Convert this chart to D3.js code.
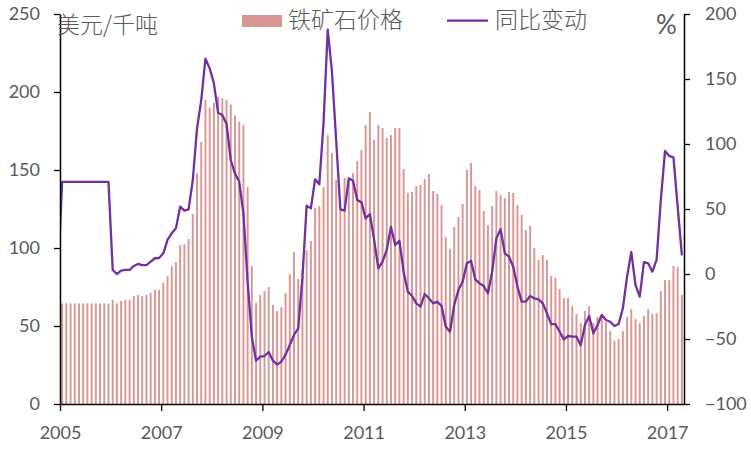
<!DOCTYPE html>
<html><head><meta charset="utf-8">
<script src="https://cdn.jsdelivr.net/npm/d3@7"></script>
<style>
body{margin:0;background:#fff}
svg{display:block;background:#fff}
.tick text{font-family:Lato,"Open Sans",sans-serif;font-size:18px;fill:#595959}
.cjk{font-family:"Noto Sans CJK SC",sans-serif;font-size:23px;fill:#595959;font-weight:300}
</style></head>
<body><svg id="c" width="751" height="451"></svg>
<script>
// ---------- data ----------
const years = [2005,2006,2007,2008,2009,2010,2011,2012,2013,2014,2015,2016,2017];
const monthsInLastYear = 4; // Jan-Apr 2017
const months = [];
years.forEach(y => { const n = y === 2017 ? monthsInLastYear : 12; for (let m = 1; m <= n; m++) months.push(y + "-" + String(m).padStart(2, "0")); });

// iron ore price, USD / tonne (monthly)
const price = [
  64.5,64.5,64.5,64.5,64.5,64.5,64.5,64.5,64.5,64.5,64.5,64.5,
  66.7,64.5,66,66.7,66.7,69.2,69.9,69.2,69.9,71.3,73.1,73.1,
  77.8,82,88.5,91,101.9,102.4,105.8,121.8,148,168,195,190,
  193,197,196,195,192,185,181,179,139,88.5,64.7,69.9,
  72.4,75,63.5,59.6,62.2,71.2,83.3,97.4,80.1,86,98.7,104.5,
  125.6,126.9,139.1,172.4,160.9,143.6,124.7,144.9,142,148,155.8,162.8,
  178.8,187.2,169.2,178.8,176.9,170.5,172.4,176.9,176.9,150.6,135.3,135.9,
  139.7,140.4,144.2,147.4,136.5,134.6,127.6,107,99.4,113.5,119.9,128.2,
  150,154.5,139.7,137.2,123.7,114.7,126.9,136.5,134,132,135.9,135.3,
  127.6,121.2,111.5,114.1,100,92.3,95.5,92.3,82.1,80.8,73.7,67.9,
  67.9,62.8,57.7,51.9,59.6,62.8,51.9,55.8,54.5,52.6,46.8,40.4,
  41.7,46.8,55.8,60.9,54.5,51.9,56.4,60.9,57.7,58.3,72.4,79.5,
  79.5,88.5,87.8,69.9
];
// year-on-year change, %
const yoy = [
  70.8,70.8,70.8,70.8,70.8,70.8,70.8,70.8,70.8,70.8,70.8,70.8,
  3.1,0,2.6,3.1,3.1,6.2,7.7,6.9,6.9,9.5,12.1,12.3,
  15.9,26.2,31.3,35.1,51.8,48.7,49.7,72.3,112,133.8,165.6,158.2,
  146.7,124.1,122.3,115.4,87.7,77.4,71,46.7,-6,-48.2,-66.7,-63.6,
  -63.1,-60,-66.7,-69.7,-67.4,-62,-54.6,-46.9,-41.8,-3,52.6,50.5,
  72.8,69,115.9,188,155.6,103,49.7,48.7,73.6,71.8,56.9,55.1,
  42.8,46.2,26.2,4.4,9.5,18.5,36.4,22.3,25.6,1.8,-13.6,-16.9,
  -22.6,-25.1,-15.4,-18.7,-22.6,-21.3,-24.6,-40.5,-44.4,-23.8,-12.3,-5.9,
  8.2,10,-4.1,-7.2,-9.2,-14.9,1.8,27.4,34.4,15.9,13.3,5.6,
  -9.7,-21.3,-21.3,-16.9,-18.7,-19.5,-22.6,-30.3,-38.5,-38.5,-44.4,-50.3,
  -47.7,-48.2,-48.2,-54.9,-39.2,-32.3,-45.6,-39.2,-31.5,-35.4,-36.7,-40,
  -38.5,-26.4,-2,16.9,-8.5,-17.4,9.2,8.2,1.8,10.8,56.9,94.6,
  90.8,89.7,51.8,14.4
];
const yoyPrevDec = -3; // Dec 2004 value, only its clipped lead-in segment is visible

const leftTicks = [0,50,100,150,200,250];
const rightTicks = [-100,-50,0,50,100,150,200];
const yearTicks = [2005,2007,2009,2011,2013,2015,2017];
const seriesNames = ["铁矿石价格","同比变动"];
const leftUnit = "美元/千吨";
const rightUnit = "%";

// ---------- scales ----------
const svg = d3.select("#c");
const X0 = 60, X1 = 684, Y0 = 404, Y1 = 14;
const x = d3.scaleBand().domain(months).range([X0, X1]).padding(0);
const bw = x.bandwidth();
const xYear = d3.scaleLinear().domain([years[0], years[0] + months.length / 12]).range([X0, X1]);
const yL = d3.scaleLinear().domain([0, 250]).range([Y0, Y1]);
const yR = d3.scaleLinear().domain([-100, 200]).range([Y0, Y1]);

svg.append("defs").append("clipPath").attr("id","plot")
  .append("rect").attr("x", X0).attr("y", 0).attr("width", X1 - X0).attr("height", 451);

// bars
svg.append("g").selectAll("rect").data(months).join("rect")
  .attr("x", d => x(d) + bw * 0.27)
  .attr("width", bw * 0.46)
  .attr("y", (d, i) => yL(price[i]))
  .attr("height", (d, i) => yL(0) - yL(price[i]))
  .attr("fill", "#DA9694");

// line
const pts = [[x(months[0]) - bw / 2, yR(yoyPrevDec)]]
  .concat(months.map((m, i) => [x(m) + bw / 2, yR(yoy[i])]));
svg.append("path").attr("clip-path", "url(#plot)")
  .attr("d", d3.line()(pts))
  .attr("fill", "none").attr("stroke", "#7030A0").attr("stroke-width", 2.3)
  .attr("stroke-linejoin", "round");

// axes
function style(g){
  g.select(".domain").attr("stroke", "#000").attr("stroke-width", 1.5);
  g.selectAll(".tick line").attr("stroke", "#000").attr("stroke-width", 1.3);
}
svg.append("g").attr("transform", `translate(${X0},0)`)
  .call(d3.axisLeft(yL).tickValues(leftTicks).tickSize(6).tickSizeOuter(0).tickPadding(14))
  .call(style);
svg.append("g").attr("transform", `translate(${X1},0)`)
  .call(d3.axisRight(yR).tickValues(rightTicks).tickSize(6).tickSizeOuter(0).tickPadding(15))
  .call(style);
svg.append("g").attr("transform", `translate(0,${Y0})`)
  .call(d3.axisBottom(xYear).tickValues(yearTicks).tickFormat(d3.format("d")).tickSize(7).tickSizeOuter(0).tickPadding(15))
  .call(style);

// unit labels
svg.append("text").attr("class","cjk").attr("x", 57).attr("y", 33).text(leftUnit);
svg.append("text").attr("x", 656).attr("y", 34)
  .style("font-family", "Lato,sans-serif").style("font-size", "26px").style("fill", "#595959").text(rightUnit);

// legend
svg.append("rect").attr("x", 242).attr("y", 15).attr("width", 40).attr("height", 12).attr("fill", "#DA9694");
svg.append("text").attr("class","cjk").attr("x", 288).attr("y", 28).text(seriesNames[0]);
svg.append("line").attr("x1", 447).attr("x2", 488).attr("y1", 20.7).attr("y2", 20.7)
  .attr("stroke", "#7030A0").attr("stroke-width", 2.3);
svg.append("text").attr("class","cjk").attr("x", 495).attr("y", 28).text(seriesNames[1]);
</script>
</body></html>
